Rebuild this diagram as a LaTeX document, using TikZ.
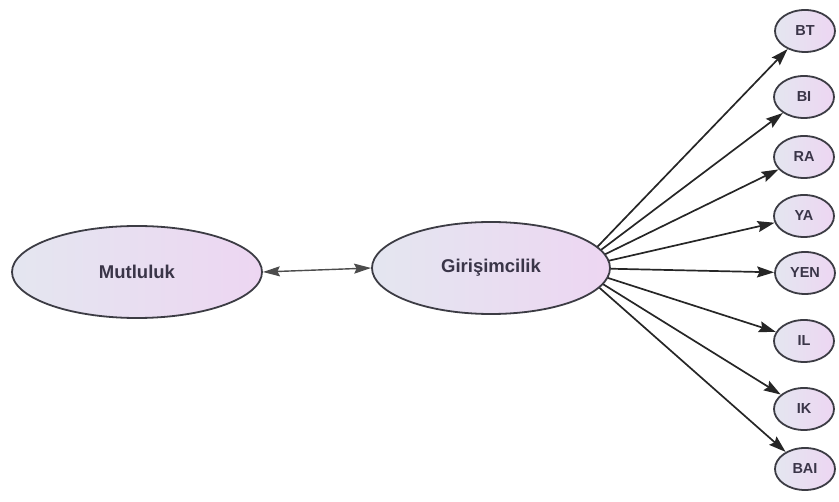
\documentclass[tikz,border=0pt]{standalone}
\usepackage{fontspec}
\setmainfont{Liberation Sans}
\usetikzlibrary{shapes.geometric,arrows.meta,backgrounds}
\definecolor{edgecol}{HTML}{3C3C44}
\definecolor{txtcol}{HTML}{3A3548}
\definecolor{fillL}{HTML}{E4E6F0}
\definecolor{fillR}{HTML}{EDD6F2}
\tikzset{
  bigell/.style={ellipse, draw=edgecol, line width=1.8pt, left color=fillL, right color=fillR,
    minimum width=#1, minimum height=92pt, inner sep=0pt, text=txtcol,
    font=\bfseries\fontsize{18.5}{18.5}\selectfont},
  smallell/.style={ellipse, draw=edgecol, line width=1.8pt, left color=fillL, right color=fillR,
    minimum width=60pt, minimum height=42pt, inner sep=0pt, text=txtcol,
    font=\bfseries\fontsize{14.5}{14.5}\selectfont},
  conn/.style={line width=1.7pt, draw=black!85, -{Stealth[length=17pt,width=11pt,inset=2.5pt]}},
  biconn/.style={line width=1.4pt, draw=black!70, {Stealth[length=17pt,width=10pt,inset=2.5pt]}-{Stealth[length=17pt,width=10pt,inset=2.5pt]}},
}
\begin{document}
\begin{tikzpicture}[x=1pt,y=-1pt]
\useasboundingbox (0,0) rectangle (839,502);
\node[bigell=250pt] (m) at (137,272) {Mutluluk};
\node[bigell=238pt] (g) at (491,268) {Girişimcilik};
\coordinate (src) at (577,268);
\node[smallell] (bt) at (805,31) {BT};
\node[smallell] (bi) at (804,97) {BI};
\node[smallell] (ra) at (804,157) {RA};
\node[smallell] (ya) at (804,216) {YA};
\node[smallell] (yen) at (805,273) {YEN};
\node[smallell] (il) at (804,341) {IL};
\node[smallell] (ik) at (804,409) {IK};
\node[smallell] (bai) at (805,469) {BAI};
\draw[biconn] (m.east) -- (g.west);
\begin{scope}[on background layer]
\foreach \t in {bt,bi,ra,ya,yen,il,ik,bai}{
  \draw[conn] (src) -- (\t);
}
\end{scope}
\end{tikzpicture}
\end{document}
